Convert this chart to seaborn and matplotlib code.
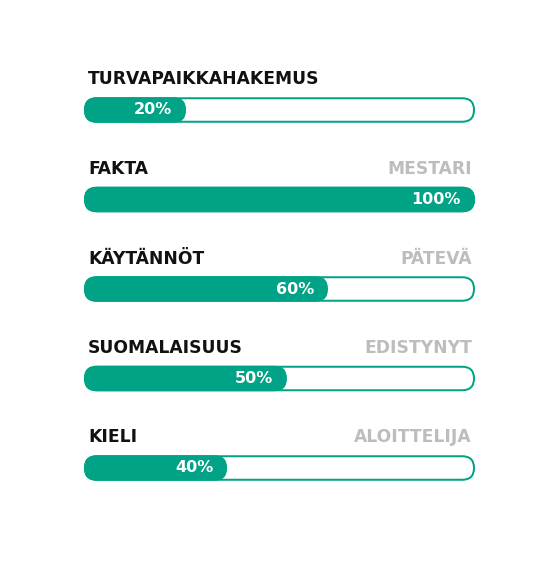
import matplotlib
matplotlib.use("Agg")
import matplotlib.pyplot as plt
import seaborn as sns
import pandas as pd
from matplotlib.patches import FancyBboxPatch

# ---- data ----
categories = ["TURVAPAIKKAHAKEMUS", "FAKTA", "KÄYTÄNNÖT", "SUOMALAISUUS", "KIELI"]
levels = ["", "MESTARI", "PÄTEVÄ", "EDISTYNYT", "ALOITTELIJA"]
percent_labels = [20, 100, 60, 50, 40]
fill_widths = [26.1, 100, 62.4, 51.9, 36.6]   # drawn fill length in % of track
track = [100, 100, 100, 100, 100]

TEAL = "#00a385"
GRAY = "#bdbdbd"
DARK = "#111111"

sns.set_theme(style="white")
plt.rcParams["font.family"] = ["DejaVu Sans"]

W, H, DPI = 560, 561, 100
fig = plt.figure(figsize=(W / DPI, H / DPI), dpi=DPI)

# axes geometry in pixels
left_px, right_px = 84, 475
row_gap = 89.5
first_center = 110
top_px = first_center - row_gap / 2
bottom_px = top_px + row_gap * 5
ax = fig.add_axes([left_px / W, 1 - bottom_px / H,
                   (right_px - left_px) / W, (bottom_px - top_px) / H])

bar_px = 25.5
bar_h = bar_px / row_gap

df = pd.DataFrame({"cat": categories, "fill": fill_widths, "track": track})

sns.barplot(data=df, x="track", y="cat", orient="h", width=bar_h,
            color="white", ax=ax)
n_track = len(ax.patches)
sns.barplot(data=df, x="fill", y="cat", orient="h", width=bar_h,
            color=TEAL, ax=ax)

ax.set_xlim(0, 100)
ax.set_ylim(len(categories) - 0.5, -0.5)

x_units_per_px = 100 / (right_px - left_px)
y_units_per_px = 1 / row_gap
aspect = y_units_per_px / x_units_per_px
lw_px = 2.0

patches = list(ax.patches)
for i, p in enumerate(patches):
    x, y = p.get_x(), p.get_y()
    w, h = p.get_width(), p.get_height()
    p.remove()
    if i < n_track:
        inset_x = (lw_px / 2) * x_units_per_px
        inset_y = (lw_px / 2) * y_units_per_px
        r = (bar_px / 2 - lw_px / 2) * x_units_per_px
        fb = FancyBboxPatch((x + inset_x, y + inset_y), w - 2 * inset_x, h - 2 * inset_y,
                            boxstyle=f"round,pad=0,rounding_size={r}",
                            mutation_aspect=aspect, facecolor="white",
                            edgecolor=TEAL, linewidth=lw_px * 72 / DPI, zorder=2)
    else:
        r = (bar_px / 2) * x_units_per_px
        fb = FancyBboxPatch((x, y), w, h,
                            boxstyle=f"round,pad=0,rounding_size={r}",
                            mutation_aspect=aspect, facecolor=TEAL,
                            edgecolor="none", linewidth=0, zorder=3)
    ax.add_patch(fb)

pad = 14 * x_units_per_px
base_off = -25.5 * y_units_per_px
for i, (cat, lev, pl, fw) in enumerate(zip(categories, levels, percent_labels, fill_widths)):
    ax.text(fw - pad, i, f"{pl}%", ha="right", va="center", color="white",
            fontsize=11.5, fontweight="bold", zorder=4)
    ax.text(1.0, i + base_off, cat, ha="left", va="baseline", color=DARK,
            fontsize=12.3, fontweight="bold", clip_on=False)
    if lev:
        ax.text(99.2, i + base_off, lev, ha="right", va="baseline", color=GRAY,
                fontsize=12.3, fontweight="bold", clip_on=False)

ax.set_axis_off()
fig.savefig("out.png", dpi=DPI, facecolor="white")
